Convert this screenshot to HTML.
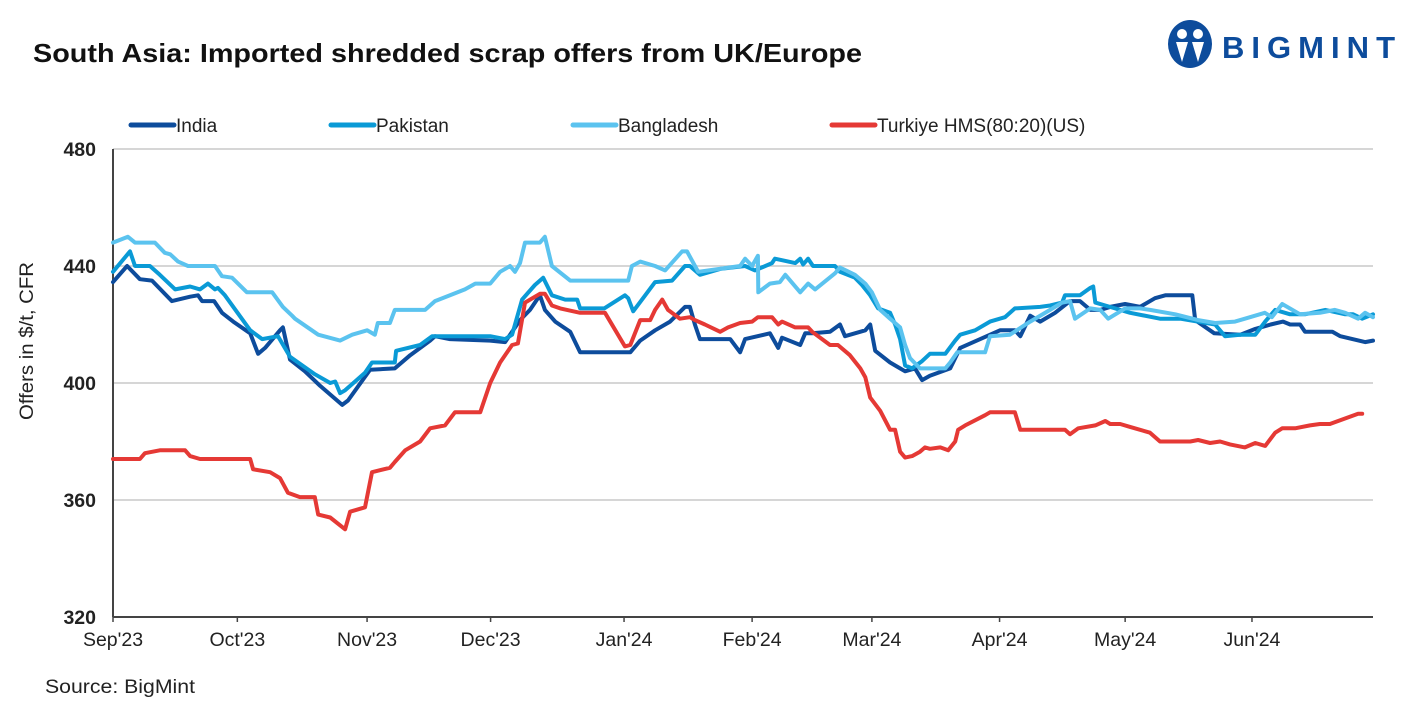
<!DOCTYPE html>
<html><head><meta charset="utf-8">
<style>
body{margin:0;background:#fff;width:1417px;height:709px;overflow:hidden;font-family:"Liberation Sans",sans-serif;}
svg text{font-family:"Liberation Sans",sans-serif;}
</style></head>
<body>
<svg id="chart" width="1417" height="709" xmlns="http://www.w3.org/2000/svg">
<text x="33" y="62" font-size="26" font-weight="bold" fill="#111" textLength="829" lengthAdjust="spacingAndGlyphs">South Asia: Imported shredded scrap offers from UK/Europe</text>
<g>
<ellipse cx="1190" cy="44" rx="22" ry="24" fill="#0d4c9c"/>
<circle cx="1182" cy="34" r="5" fill="#fff"/>
<circle cx="1198" cy="34" r="5" fill="#fff"/>
<path d="M1176 42 L1182 62 L1188 42 Z M1192 42 L1198 62 L1204 42 Z" fill="#fff"/>
<text x="1222" y="58" font-size="31" font-weight="bold" fill="#0d4c9c" textLength="173" lengthAdjust="spacing">BIGMINT</text>
</g>
<g id="legend"></g>
<g id="grid"></g>
<g id="yticks"></g>
<g id="xticks"></g>
<g id="series"></g>
<text transform="translate(33,341) rotate(-90)" text-anchor="middle" font-size="19" fill="#222" textLength="158" lengthAdjust="spacingAndGlyphs">Offers in $/t, CFR</text>
<text x="45" y="693" font-size="19" fill="#222" textLength="150" lengthAdjust="spacingAndGlyphs">Source: BigMint</text>
</svg>
<script>
const yTicks=[320,360,400,440,480];
const monthLabels=["Sep'23","Oct'23","Nov'23","Dec'23","Jan'24","Feb'24","Mar'24","Apr'24","May'24","Jun'24"];
const monthDays=[0,30,61.3,91.1,123.3,154.2,183.1,213.9,244.2,274.8];
const seriesNames=["India","Pakistan","Bangladesh","Turkiye HMS(80:20)(US)"];
const seriesColors=["#0d4c9c","#0a9ad6","#5bc3ef","#e53935"];
const indiaDays=[0,3.4,6.5,9.4,14.2,18.6,20.5,21.5,24.4,26.3,29,33.1,35,36.7,40.3,41,42.7,46.3,50,55.3,56.7,62,68,71.7,76.5,77.7,81.3,91,94.6,98.2,100.6,103,104.2,106.7,110.3,112.7,124.8,127.2,130.8,134.4,138,139.2,140.4,141.6,148.9,151.3,152.5,158.5,160.5,161.4,165.8,167,168.7,173,175.4,176.6,181.5,182.7,183.9,187.5,189.9,191.1,193.5,195.2,197.1,202,204.4,214,217.6,218.9,221.3,223.7,227.3,230.9,233.3,235.8,238.2,240.6,244.2,247.8,251.4,253.9,260.4,261.1,265.7,272,275.6,279.3,282.3,284,286.4,287.6,292.5,294.2,296.1,302.1,304];
const indiaVals=[434.5,440,435.5,435,428,429.5,430,428,428,424,421,417,410,412,418,419,408,404,399,392.5,394,404.5,405,409.5,414.5,416,415,414.5,414,421.5,425,430,425,421,417.5,410.5,410.5,414.5,418,421,426,426,420,415,415,410.5,415,417,412,415.5,413,417,417,417.5,420,416,418,420,411,407,405,404,405,401,402.5,405,412,418,418,416,423,421,424,428,428,425,425,426,427,426,429,430,430,421.5,417,416.5,418.5,420,421,420,420,417.5,417.5,417.5,416,414,414.5];
const pakDays=[0,4.1,5.3,8.9,11.3,15,18.6,21,22.9,24.6,25.3,27,33.1,36,39.8,42.7,48.7,52.4,53.6,54.8,56,60.8,62.5,68,68.3,74.1,77,91,94.6,96.3,98.7,101.8,103.8,105.9,109.1,112,112.7,118.5,123.5,124.3,125.5,128.4,130.8,134.9,138,139.2,141.6,146.5,152.5,154.9,159,159.7,161.4,164.6,165.8,166.5,167.7,168.9,174.2,175.4,179,180.7,182.7,184.6,187.5,188.7,189.9,191.1,192.8,195.2,197.1,200.8,203.2,204.4,208,211.6,215.2,217.6,223.7,226.1,229,229.7,233.3,235.8,236.5,237,239.4,245.4,252.6,257.5,265.9,268.3,271.9,275.6,278,280.4,284,287.6,292.5,297.3,299.2,301.4,304];
const pakVals=[438,445,440,440,437,432,433,432,434,432,432.5,430,418,415,416,409,403,400,400.5,396.5,397.5,403.5,407,407,411,413,416,416,415,416.5,428.5,433.5,436,430,428.5,428.5,425.5,425.5,430,429,424.5,430,434.5,435,440,440,437,439,440,438.5,441,442.5,442,441,442.5,440.5,442.5,440,440,438,436,433.5,430,425.5,424,420,415,406,405,407.5,410,410,414.5,416.5,418,421,422.5,425.5,426,426.5,427.5,430,430,432.5,433,427.5,426.5,424,422,422,420,416,416.5,416.5,421,425,423.5,423.5,425,423.5,423.5,422,423.5];
const bgdDays=[0,3.6,5.3,10.1,12.5,13.8,15.7,18.1,24.6,26.3,28.7,32.3,38.4,41,43.2,43.9,49.5,54.8,57.7,61.3,63.2,63.9,66.8,68,75.3,77.7,81.3,84.9,87.4,91,93.4,95.8,97,98.2,99.4,103,104.2,105.9,110.3,124.3,125.2,127.2,130.8,133.2,137.3,138.5,141.2,151.3,152.5,154.2,155.6,155.7,158.5,160.9,162.2,165.8,167.7,169.4,174.2,175.4,179,181.5,183.1,185.1,187.5,189.9,191.1,192.3,194.7,200.8,202,203.7,210.4,211.6,216.4,221.3,226.1,229,230.9,232.1,235.8,238.2,240.1,244.2,247.8,250.2,256.3,261.8,265.9,270.7,273.1,277.9,279.6,282.1,286.4,291.2,294.8,297.3,300.4,302.1,304];
const bgdVals=[448,450,448,448,444.5,444,441.5,440,440,436.5,436,431,431,426,423,422,416.5,414.5,416.5,418,416.5,420.5,420.5,425,425,428,430,432,434,434,438,440,438,441,448,448,450,440,435,435,440,441.5,440,438.5,445,445,438,440,442.5,440,443.5,431,434,434.5,437,431,434,432,437.5,439.5,437,434,431,425,422,419,413,408.5,405,405,407,410.5,410.5,416,416.5,421,425,427.5,428,422,425.5,425,422,425.5,425.5,425,423.5,421.5,420.5,421,422,424,422.5,427,423.5,424,425,424,422,424,422.5];
const turDays=[0,6.5,7.7,11.3,17.4,18.6,21,33.1,33.8,37.9,40.3,42.2,45.1,48.7,49.5,52.4,56,57.2,60.8,62.5,66.8,68,70.5,74.1,76.5,80.1,82.5,88.6,91,93.4,96.3,97.7,99.4,103,104.2,105.9,107.9,112.7,118.7,123.5,124.8,127.2,129.6,130.8,132.5,133.9,136.8,139.2,140.4,142.8,146.5,148.4,151.3,154.2,155.6,159,160.5,161.4,164.6,167.7,168.7,173,174.9,177.8,180.3,181.5,182.7,185.1,187.5,188.7,189.9,191.1,192.8,194.7,195.9,197.1,199.6,201.5,203.2,203.9,205.6,210.4,211.6,217.6,218.9,229.7,230.9,232.9,237,239.4,240.6,243,245.4,250.2,252.6,259.9,261.8,264.7,267.1,269.5,273.1,275.6,278,280.4,282.1,285.2,288.8,291.2,293.6,300.4,301.4,304];
const turVals=[374,374,376,377,377,375,374,374,370.5,369.5,367.5,362.5,361,361,355,354,350,356,357.5,369.5,371,373,377,380,384.5,385.5,390,390,400,407,413,413.5,427.5,430.5,430.5,426.5,425.5,424,424,412.5,413,421.5,421.5,425,428.5,425,422,422.5,421.5,420,417.5,419,420.5,421,422.5,422.5,420,421,419,419,417.5,413,413,409.5,405,402,395,390.5,384,384,376.5,374.5,375,376.5,378,377.5,378,377,380,384,385.5,389,390,390,384,384,382.5,384.5,385.5,387,386,386,385,383,380,380,380.5,379.5,380,379,378,379.5,378.5,383,384.5,384.5,385.5,386,386,389.5,389.5];

const NS="http://www.w3.org/2000/svg";
const X0=113,X1=1373,Y0=617,Y1=149;
const xScale=d=>X0+(d/304)*(X1-X0);
const yScale=v=>Y0-(v-320)/(480-320)*(Y0-Y1);
function mk(tag,attrs,parent){const e=document.createElementNS(NS,tag);for(const k in attrs)e.setAttribute(k,attrs[k]);parent.appendChild(e);return e;}
const grid=document.getElementById('grid'),yt=document.getElementById('yticks'),xt=document.getElementById('xticks'),ser=document.getElementById('series'),leg=document.getElementById('legend');
yTicks.forEach(v=>{
  if(v>320){const l=mk('line',{x1:X0,x2:X1,y1:yScale(v),y2:yScale(v),stroke:'#d6d6d6','stroke-width':2},grid);
  
  }
  const t=mk('text',{x:96,y:yScale(v)+7,'text-anchor':'end','font-size':19.5,'font-weight':'bold',fill:'#222'},yt);
  t.textContent=v;
  
  
});
mk('line',{x1:X0,x2:X0,y1:Y1,y2:Y0,stroke:'#444','stroke-width':2},yt);
mk('line',{x1:X0,x2:X1,y1:Y0,y2:Y0,stroke:'#444','stroke-width':2},xt);
monthDays.forEach((d,i)=>{
  mk('line',{x1:xScale(d),x2:xScale(d),y1:Y0,y2:Y0+5,stroke:'#444','stroke-width':1.5},xt);
  const t=mk('text',{x:xScale(d),y:646,'text-anchor':'middle','font-size':19.5,fill:'#222'},xt);
  t.textContent=monthLabels[i];
  
  
});
const allDays=[indiaDays,pakDays,bgdDays,turDays],allVals=[indiaVals,pakVals,bgdVals,turVals];
const ids=['india','pakistan','bangladesh','turkiye'];
allDays.forEach((ds,i)=>{
  const pts=ds.map((d,j)=>xScale(d).toFixed(1)+','+yScale(allVals[i][j]).toFixed(1)).join(' ');
  const p=mk('polyline',{points:pts,fill:'none',stroke:seriesColors[i],'stroke-width':4,'stroke-linejoin':'round','stroke-linecap':'round'},ser);
  
  
});
const legX=[131,331,573,832];
seriesNames.forEach((n,i)=>{
  const l=mk('line',{x1:legX[i],x2:legX[i]+43,y1:125,y2:125,stroke:seriesColors[i],'stroke-width':5,'stroke-linecap':'round'},leg);
  
  
  const t=mk('text',{x:legX[i]+45,y:132,'font-size':19,fill:'#222'},leg);
  t.textContent=n;
  
  
});
</script>
</body></html>
